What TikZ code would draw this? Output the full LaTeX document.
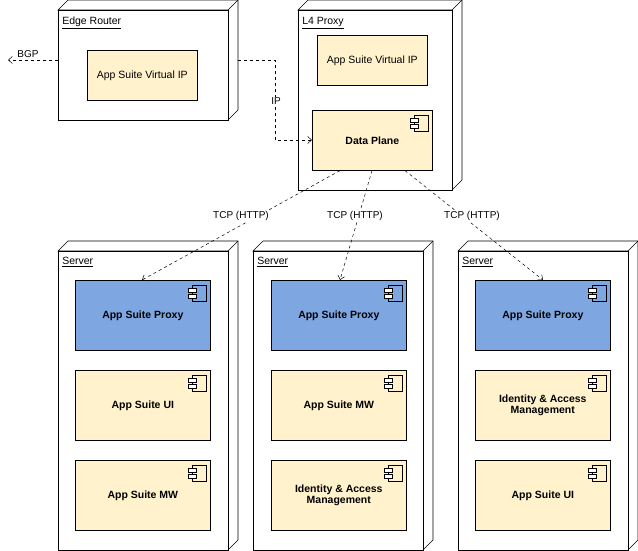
\documentclass[tikz,border=0pt]{standalone}
\usepackage{fontspec}
\setmainfont{Liberation Sans}
\usetikzlibrary{arrows.meta}
\begin{document}
\begin{tikzpicture}[x=1pt,y=-1pt,line width=0.6pt,
  frame/.style={draw,fill=white,anchor=north west,inner sep=0pt},
  comp/.style={draw,fill=cy,anchor=north west,inner sep=0pt,align=center,font=\bfseries\fontsize{10.5}{11}\selectfont},
  plain/.style={draw,fill=cy,anchor=north west,inner sep=0pt,align=center,font=\fontsize{10.5}{12}\selectfont},
  blue/.style={fill=cb},
  ttl/.style={anchor=north west,font=\fontsize{10.5}{12}\selectfont,inner sep=0pt},
  conn/.style={draw,line width=0.5pt,dash pattern=on 3pt off 3pt,-{Straight Barb[length=4pt,width=7pt]}},
  lbl/.style={fill=white,inner sep=1pt,font=\fontsize{10}{11}\selectfont}]
\definecolor{cy}{HTML}{FFF2CC}
\definecolor{cb}{HTML}{7EA6E0}
\useasboundingbox (0,0) rectangle (638,551);
\def\cube#1#2#3#4#5{% name x y w h
  \draw[fill=white] (#2,#3) -- ++(10,-10) -- ++(#4,0) -- ++(0,#5) -- ++(-10,10) -- ++(0,-#5) -- cycle;
  \draw (#2+#4,#3) -- ++(10,-10);
  \node[frame,minimum width=#4pt,minimum height=#5pt] (#1) at (#2,#3) {};}
\def\icon#1{%
  \draw ([xshift=-18pt,yshift=-5pt]#1.north east) rectangle ([xshift=-4pt,yshift=-21pt]#1.north east);
  \draw[fill=white] ([xshift=-22pt,yshift=-8pt]#1.north east) rectangle ([xshift=-14pt,yshift=-12pt]#1.north east);
  \draw[fill=white] ([xshift=-22pt,yshift=-14pt]#1.north east) rectangle ([xshift=-14pt,yshift=-18pt]#1.north east);}
\def\cmp#1#2#3#4#5{% name x y style text
  \node[comp,#4,minimum width=135pt,minimum height=70pt] (#1) at (#2,#3) {#5};
  \icon{#1}}
\cube{er}{58}{10}{170}{110}
\node[ttl] at (62,17) {\underline{Edge Router}};
\node[plain,minimum width=110pt,minimum height=50pt] (evip) at (87,50) {App Suite Virtual IP};
\cube{l4}{298}{10}{154}{180}
\node[ttl] at (302,17) {\underline{L4 Proxy}};
\node[plain,minimum width=110pt,minimum height=50pt] (lvip) at (317,35) {App Suite Virtual IP};
\node[comp,minimum width=120pt,minimum height=60pt] (dp) at (312,110) {Data Plane};
\icon{dp}
\cube{s1}{58}{251}{170}{299}
\cube{s2}{253}{251}{170}{299}
\cube{s3}{458}{251}{170}{299}
\node[ttl] at (62,257) {\underline{Server}};
\node[ttl] at (257,257) {\underline{Server}};
\node[ttl] at (462,257) {\underline{Server}};
\cmp{p1}{75}{280}{blue}{App Suite Proxy}
\cmp{a1}{75}{370}{}{App Suite UI}
\cmp{b1}{75}{460}{}{App Suite MW}
\cmp{p2}{271}{280}{blue}{App Suite Proxy}
\cmp{a2}{271}{370}{}{App Suite MW}
\cmp{b2}{271}{460}{}{Identity \& Access\\Management}
\cmp{p3}{475}{280}{blue}{App Suite Proxy}
\cmp{a3}{475}{370}{}{Identity \& Access\\Management}
\cmp{b3}{475}{460}{}{App Suite UI}
\coordinate (bgp) at (8,60);
\draw[conn] (er.west|-0,60) -- (bgp) node[lbl,pos=0.6,above=1pt,fill=none] {BGP};
\draw[conn] (238,60) -- (275,60) -- (275,140) -- (dp.west|-0,140);
\node[lbl] at (276,101) {IP};
\draw[conn] (dp.south-|340,0) -- (p1.north-|142,0);
\draw[conn] (dp.south-|372,0) -- (p2.north-|340,0);
\draw[conn] (dp.south-|405,0) -- (p3.north-|543,0);
\node[lbl] at (241,216) {TCP (HTTP)};
\node[lbl] at (355,216) {TCP (HTTP)};
\node[lbl] at (472,216) {TCP (HTTP)};
\end{tikzpicture}
\end{document}
